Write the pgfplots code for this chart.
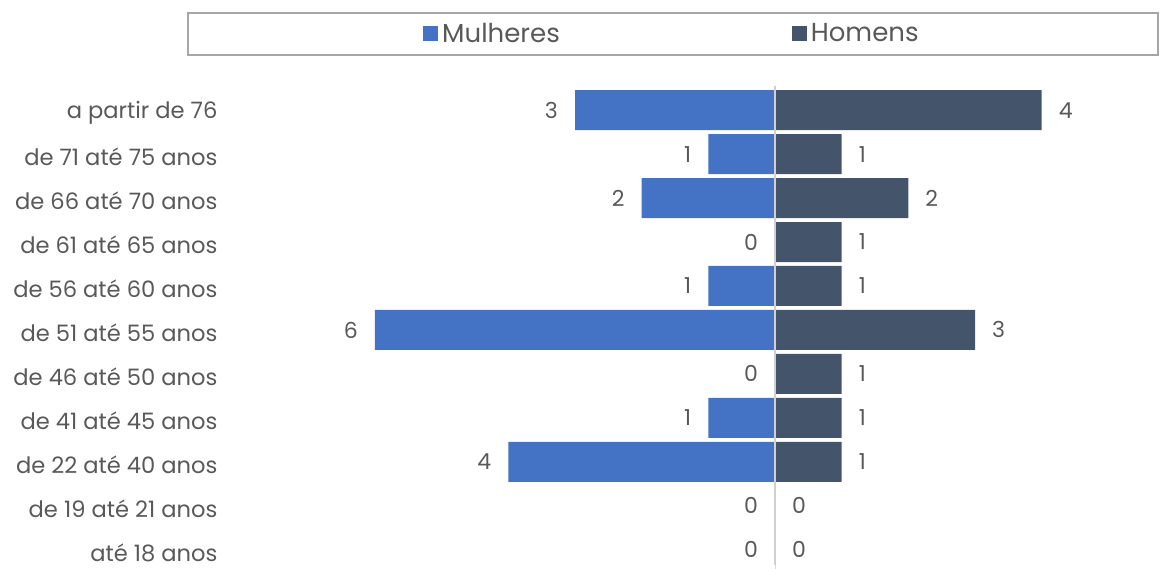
\documentclass[border=0pt]{standalone}
\usepackage{fontspec}
\setmainfont{Poppins}
\usepackage{pgfplots}
\pgfplotsset{compat=1.18}
\definecolor{mulher}{HTML}{4472C4}
\definecolor{homem}{HTML}{44546A}
\definecolor{txt}{HTML}{595959}
\definecolor{eixo}{HTML}{D0D0D0}

\begin{document}
\begin{tikzpicture}
\begin{axis}[
  scale only axis,
  width=460pt, height=239.5pt,
  xbar, bar width=20pt,
  xmin=-8.1, xmax=5.7,
  ymin=-0.35, ymax=10.55,
  clip=false,
  axis line style={draw=none},
  xtick=\empty,
  ytick={0,...,10},
  yticklabels={até 18 anos, de 19 até 21 anos, de 22 até 40 anos, de 41 até 45 anos,
    de 46 até 50 anos, de 51 até 55 anos, de 56 até 60 anos, de 61 até 65 anos,
    de 66 até 70 anos, de 71 até 75 anos, a partir de 76},
  yticklabel style={font=\fontsize{11.3}{13}\selectfont, text=txt, xshift=-1pt, yshift=-1.5pt},
  major tick style={draw=none},
  extra x ticks={0},
  extra x tick labels={},
  extra x tick style={grid=major, major grid style={draw=eixo, line width=0.8pt}},
  axis on top,
  /pgf/number format/assume math mode=true,
  legend columns=2,
  legend style={at={(0.476,1.1085)}, anchor=center, draw=none,
    font=\fontsize{13}{15}\selectfont, text=txt,
    /tikz/every even column/.append style={column sep=114pt}},
  legend image code/.code={\fill[#1, draw=none] (0pt,-3.5pt) rectangle (7.5pt,4pt);},
  nodes near coords={\pgfmathprintnumber{\pgfplotspointmeta}},
  nodes near coords style={font=\fontsize{11}{13}\selectfont, text=txt},
]
\addplot[fill=mulher, draw=none, bar shift=0pt, point meta={-x},
  every node near coord/.append style={anchor=east, xshift=-5pt}]
  coordinates {(0,0) (0,1) (-4,2) (-1,3) (0,4) (-6,5) (-1,6) (0,7) (-2,8) (-1,9) (-3,10)};
\addplot[fill=homem, draw=none, bar shift=0pt, point meta={x},
  every node near coord/.append style={anchor=west, xshift=5pt}]
  coordinates {(0,0) (0,1) (1,2) (1,3) (1,4) (3,5) (1,6) (1,7) (2,8) (1,9) (4,10)};
\legend{Mulheres, Homens}
\draw[gray!70, line width=0.9pt] (rel axis cs:-0.051,1.0647) rectangle (rel axis cs:1.003,1.1524);
\coordinate (bl) at (rel axis cs:-0.2554,-0.008);
\coordinate (tr) at (rel axis cs:1.0054,1.1795);
\end{axis}
\pgfresetboundingbox
\useasboundingbox (bl) rectangle (tr);
\end{tikzpicture}
\end{document}
